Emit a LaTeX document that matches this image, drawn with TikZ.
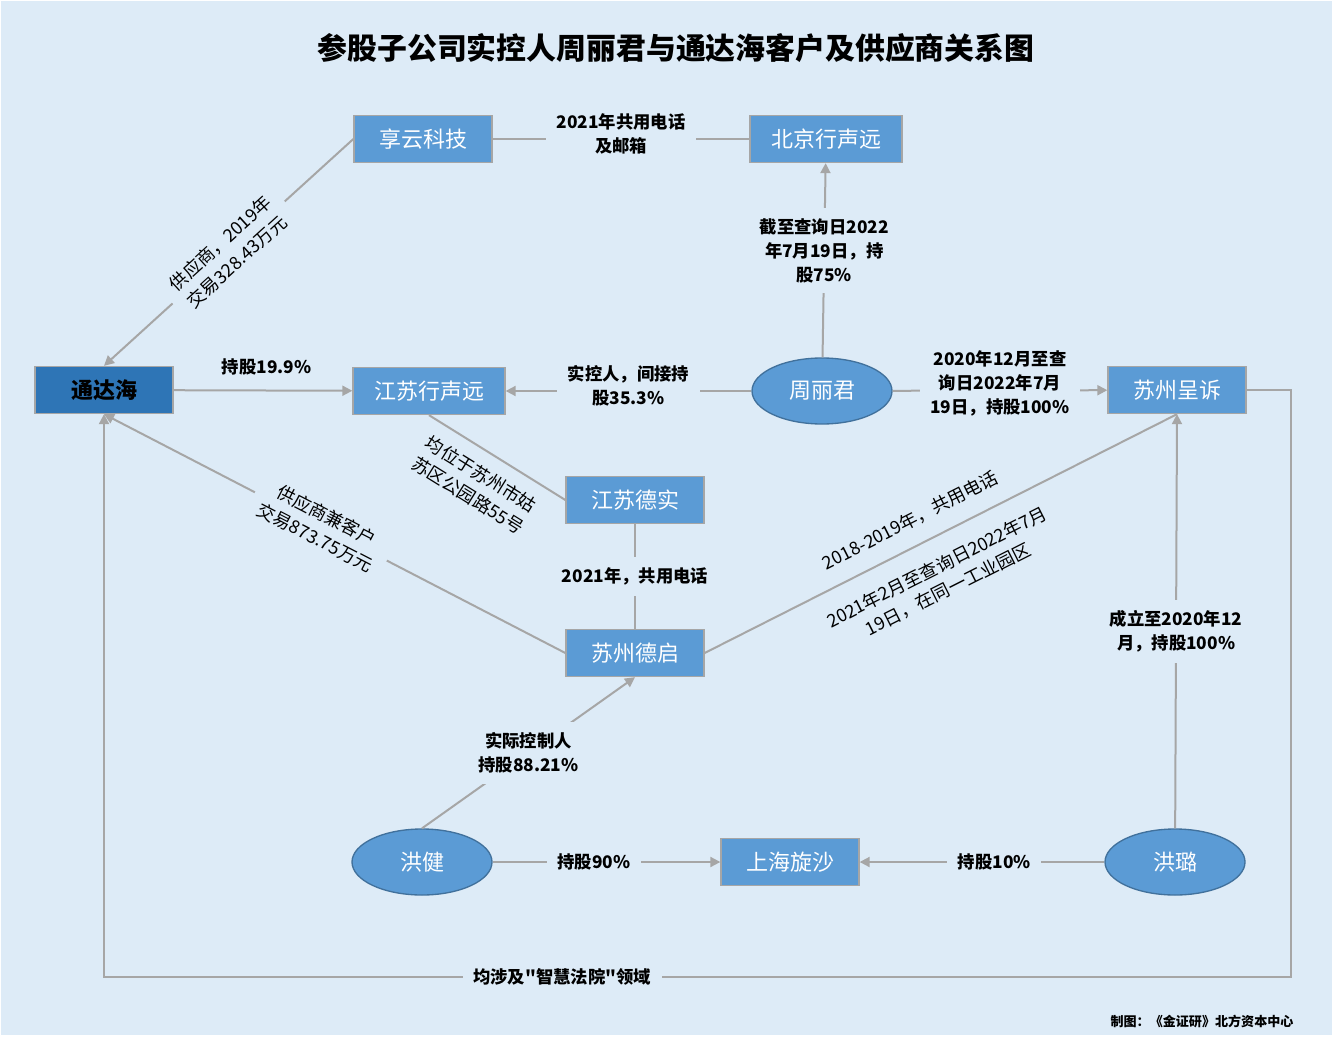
\documentclass[tikz,border=0pt]{standalone}
\usepackage{fontspec}
\setmainfont{Noto Sans CJK SC}
\newfontfamily\cjkraw{Noto Sans CJK SC}
\usetikzlibrary{shapes.geometric,arrows.meta}

\definecolor{bg}{HTML}{DDEBF7}
\definecolor{boxc}{HTML}{5B9BD5}
\definecolor{edgec}{HTML}{A6A6A6}
\definecolor{darkc}{HTML}{2E75B6}
\definecolor{ringc}{HTML}{41719C}

\tikzstyle{box}=[rectangle, draw=edgec, line width=1pt, fill=boxc, text=white, minimum width=103.5pt, minimum height=35.25pt, inner xsep=15.75pt, font=\fontsize{16.5}{20}\selectfont]
\tikzstyle{person}=[ellipse, draw=ringc, line width=1pt, fill=boxc, text=white, minimum width=105pt, minimum height=49.5pt, font=\fontsize{16.5}{20}\selectfont]
\tikzstyle{link}=[draw=edgec, line width=1.5pt]
\tikzstyle{arr}=[link, -{Triangle[length=7.5pt, width=7.5pt]}]
\tikzstyle{lbl}=[fill=bg, align=center, inner xsep=8pt, inner ysep=8pt, font=\bfseries\fontsize{13}{18}\selectfont]
\tikzstyle{note}=[align=center, inner sep=2pt, font=\fontsize{13.5}{18.5}\selectfont]

\begin{document}
\begin{tikzpicture}[x=0.75pt, y=-0.75pt]
    \useasboundingbox (0,0) rectangle (1333,1037);
    \fill[bg] (1,1) rectangle (1332,1035);

    \path (676,48) node[font=\bfseries\fontsize{22.4}{26}\selectfont] (title) {参股子公司实控人周丽君与通达海客户及供应商关系图};
    \path (1202,1021) node[font=\bfseries\fontsize{9.8}{12}\selectfont] (credit) {制图：《金证研》北方资本中心};

    \path (104,390) node[box, fill=darkc, text=black, font=\bfseries\fontsize{16.5}{20}\selectfont] (tdh) {通达海};

    \foreach \x/\y/\n/\t in {423/139/xyk/享云科技, 826/139/bjx/北京行声远, 429/391/jsx/江苏行声远, 1177/390/szc/苏州呈诉, 635/500/jsd/江苏德实, 635/653/szq/苏州德启, 790/862/shx/上海旋沙}
    {
      \path (\x,\y) node[box] (\n) {\t};
    }

    \foreach \x/\y/\n/\t in {822/391/zlj/周丽君, 422/862/hj/洪健, 1175/862/hl/洪璐}
    {
      \path (\x,\y) node[person] (\n) {\t};
    }

    \coordinate (loopR) at (1291,977);
    \coordinate (loopL) at (104,977);

    \draw[link] (xyk) -- node[lbl, yshift=4pt] {2021年共用电话\\及邮箱} (bjx);
    \draw[arr] (xyk.west) -- node[note, fill=bg, inner xsep=8pt, sloped] {供应商，2019年\\交易328.43万元} (tdh.north);
    \draw[arr] (tdh) -- node[lbl, fill=none, inner sep=2pt, above=9pt, pos=0.52] {持股19.9\%} (jsx);
    \draw[arr] (zlj) -- node[lbl, yshift=4pt] {实控人，间接持\\股35.3\%} (jsx);
    \draw[arr] (zlj) -- node[lbl, pos=0.55] {截至查询日2022\\年7月19日，持\\股75\%} (bjx);
    \draw[arr] (zlj) -- node[lbl, yshift=5pt] {2020年12月至查\\询日2022年7月\\19日，持股100\%} (szc);
    \draw[link] (jsx.south) -- node[note, sloped, below=8pt, pos=0.47] {均位于苏州市姑\\苏区公园路55号} (jsd.west);
    \draw[link] (jsd) -- node[lbl] {2021年，共用电话} (szq);
    \draw[arr] (szq.west) -- node[note, fill=bg, inner xsep=8pt, sloped, pos=0.53] {供应商兼客户\\交易873.75万元} (tdh.south);
    \draw[link] (szq.east) -- node[note, sloped, above=10pt, pos=0.46] {2018-2019年，共用电话}
                             node[note, sloped, below=12pt, pos=0.465] {2021年2月至查询日2022年7月\\19日，在同一工业园区} (szc.south);
    \draw[arr] (hl) -- node[lbl, pos=0.476] {成立至2020年12\\月，持股100\%} (szc.south);
    \draw[arr] (hj.north) -- node[lbl] {实际控制人\\持股88.21\%} (szq.south);
    \draw[arr] (hj) -- node[lbl, pos=0.445] {持股90\%} (shx);
    \draw[arr] (hl) -- node[lbl, pos=0.45] {持股10\%} (shx);
    \draw[arr] (szc.east) -| (loopR) -- node[lbl, pos=0.614] {均涉及{\cjkraw"}智慧法院{\cjkraw"}领域} (loopL) -- (tdh.south);
\end{tikzpicture}
\end{document}
